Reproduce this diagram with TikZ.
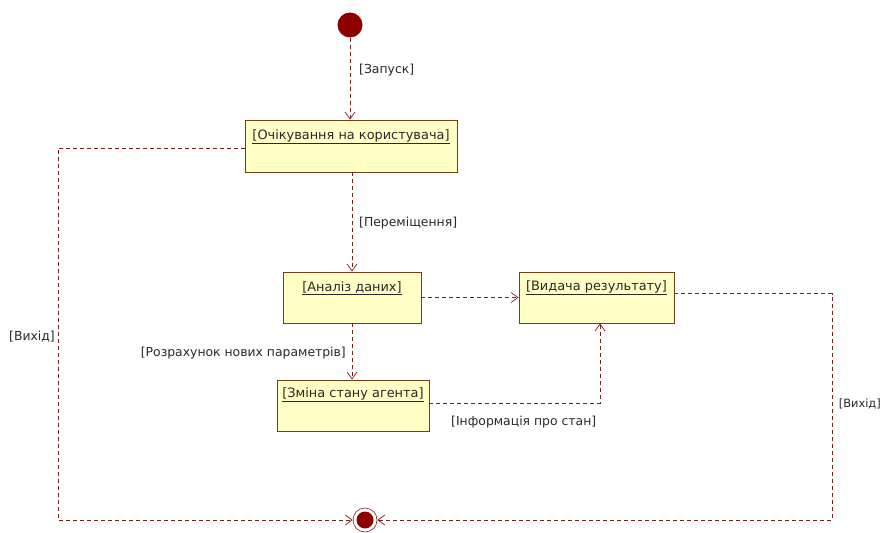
\documentclass[tikz,border=0pt]{standalone}
\usepackage{fontspec}
\setmainfont{DejaVu Sans}
\usetikzlibrary{arrows.meta,calc}
\definecolor{linec}{RGB}{125,30,30}
\definecolor{dotc}{RGB}{140,0,0}
\definecolor{bordc}{RGB}{120,60,20}
\definecolor{boxf}{RGB}{255,255,198}
\definecolor{txc}{RGB}{40,40,40}
\tikzset{
  statebox/.style={draw=bordc, fill=boxf, line width=0.9pt, rectangle, inner sep=0pt},
  boxtext/.style={text=txc, font=\fontsize{12.9}{15}\selectfont, inner sep=0pt, anchor=center},
  lbl/.style={text=txc, font=\fontsize{12.4}{15}\selectfont, inner sep=0pt},
  lblsmall/.style={text=txc, font=\fontsize{11.4}{14}\selectfont, inner sep=0pt},
  tr/.style={draw=linec, line width=0.8pt, dash pattern=on 4pt off 3pt, -{Straight Barb[length=7pt,width=10pt,line width=0.7pt]}},
}
\begin{document}
\begin{tikzpicture}[x=1pt,y=-1pt]
\useasboundingbox (0,0) rectangle (882,532);
% initial
\node[circle, fill=dotc, minimum size=25pt, inner sep=0pt] (start) at (350,25) {};
% states
\node[statebox, minimum width=212pt, minimum height=52pt] (wait) at (351,146) {};
\node[boxtext] (waitt) at (351,137) {\underline{[Очікування на користувача]}};
\node[statebox, minimum width=138pt, minimum height=51pt] (anal) at (352,297.5) {};
\node[boxtext] (analt) at (352,288) {\underline{[Аналіз даних]}};
\node[statebox, minimum width=155pt, minimum height=51pt] (res) at (596.5,297.5) {};
\node[boxtext] (rest) at (596.5,288) {\underline{[Видача результату]}};
\node[statebox, minimum width=152pt, minimum height=51pt] (chg) at (353,405.5) {};
\node[boxtext] (chgt) at (353,395) {\underline{[Зміна стану агента]}};
% final
\node[circle, draw=linec, line width=0.6pt, fill=white, minimum size=24pt, inner sep=0pt] (fin) at (365,520) {};
\node[circle, fill=dotc, minimum size=17pt, inner sep=0pt] (finin) at (fin.center) {};
% helper coordinates
\coordinate (rcor) at (832,520);
\coordinate (lcor) at (58,520);
\coordinate (icor) at (600,403);
% transitions
\draw[tr] (start.south) -- (start.south |- wait.north);
\draw[tr] (anal.north |- wait.south) -- (anal.north);
\draw[tr] (anal.east) -- (res.west);
\draw[tr] (anal.south) -- (anal.south |- chg.north);
\draw[tr] (chg.east |- icor) -- (icor) -- (icor |- res.south);
\draw[tr] ([yshift=4pt]res.east) -| (rcor) -- (fin.east);
\draw[tr] ([yshift=-2pt]wait.west) -| (lcor) -- (fin.west);
% labels
\node[lbl, anchor=west] (l1) at (359,70) {[Запуск]};
\node[lbl, anchor=west] (l2) at (359,223) {[Переміщення]};
\node[lbl, anchor=east] (l3) at (346,353) {[Розрахунок нових параметрів]};
\node[lbl, anchor=west] (l4) at (451,422) {[Інформація про стан]};
\node[lbl, anchor=west] (l5) at (9,337) {[Вихід]};
\node[lblsmall, anchor=east] (l6) at (881,404) {[Вихід]};
\end{tikzpicture}
\end{document}
